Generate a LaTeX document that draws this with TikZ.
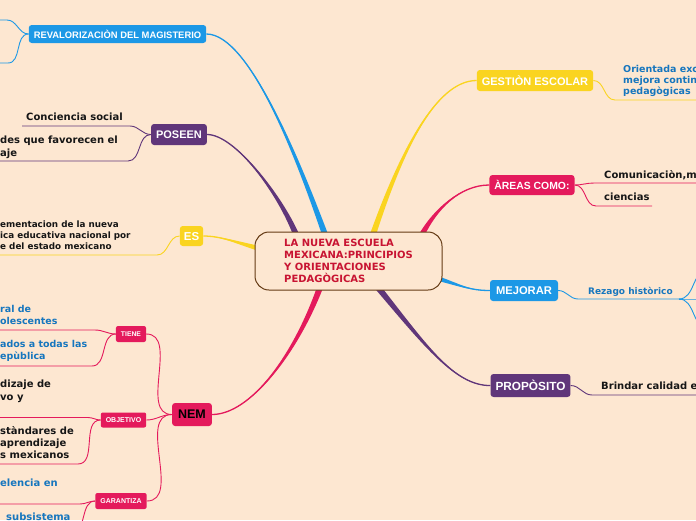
\documentclass[tikz,border=0pt]{standalone}
\usepackage{fontspec}
\setmainfont{DejaVu Sans}
\newfontfamily\boxfont{Liberation Sans}
\usetikzlibrary{calc}

\definecolor{bgpeach}{RGB}{253,231,209}
\definecolor{mmblue}{RGB}{28,152,230}
\definecolor{mmpurple}{RGB}{96,54,122}
\definecolor{mmyellow}{RGB}{250,212,32}
\definecolor{mmred}{RGB}{228,26,92}
\definecolor{rootred}{RGB}{200,20,50}
\definecolor{rootbrown}{RGB}{100,58,20}
\definecolor{leafblue}{RGB}{22,118,190}
\definecolor{leafblack}{RGB}{22,22,22}

\pgfdeclarelayer{paper}
\pgfdeclarelayer{links}
\pgfsetlayers{paper,links,main}

\newcommand{\fsz}[2]{\fontsize{#1}{#2}\selectfont}
% tapered branch: colour, start, control 1, control 2, end, half width
\newcommand{\trunk}[6]{%
  \fill[#1] ($(#2)+(#6)$) .. controls ($(#3)+0.5*(#6)$) and (#4) .. (#5)
    .. controls (#4) and ($(#3)-0.5*(#6)$) .. ($(#2)-(#6)$) -- cycle;
  \draw[#1, line width=1.3pt] (#2) .. controls (#3) and (#4) .. (#5);
}

\tikzset{
  topic/.style={rounded corners=3pt, text=white, inner xsep=5pt, inner ysep=0pt, text depth=0pt},
  leaf/.style={anchor=south west, inner sep=0pt, align=left, execute at end node=\strut},
  twig/.style={line width=0.9pt},
}

\begin{document}
\begin{tikzpicture}[x=1pt, y=-1pt]
  \begin{pgfonlayer}{paper}
    \fill[bgpeach] (0,0) rectangle (696,520);
  \end{pgfonlayer}
  \useasboundingbox (0,0) rectangle (696,520);

  % central idea
  \node[draw=rootbrown, line width=1pt, rounded corners=14pt, fill=bgpeach,
    minimum width=187pt, minimum height=58pt, align=left, text=rootred,
    font=\bfseries\fsz{10}{12}] (root) at (348.5,261)
    {LA NUEVA ESCUELA\\MEXICANA:PRINCIPIOS\\Y ORIENTACIONES\\PEDAG\`OGICAS};

  % topics on the left
  \node[topic, fill=mmblue, minimum height=18pt, font=\boxfont\bfseries\fsz{9.4}{11}] (reval) at (117.5,34) {REVALORIZACI\`ON DEL MAGISTERIO};
  \node[topic, fill=mmpurple, minimum height=21pt, font=\boxfont\bfseries\fsz{11}{13}] (poseen) at (179,134.5) {POSEEN};
  \node[topic, fill=mmyellow, minimum height=20pt, inner xsep=4pt, font=\boxfont\bfseries\fsz{11.5}{13}] (es) at (191.5,236) {ES};
  \node[topic, fill=mmred, text=black, minimum height=23pt, inner xsep=6pt, font=\boxfont\bfseries\fsz{12.5}{14}] (nem) at (192,414.5) {NEM};
  \node[topic, fill=mmred, rounded corners=2pt, minimum height=16pt, font=\boxfont\bfseries\fsz{6.8}{8}] (tiene) at (131,334) {TIENE};
  \node[topic, fill=mmred, rounded corners=2pt, minimum height=15pt, font=\boxfont\bfseries\fsz{7}{8}] (objetivo) at (123.5,420) {OBJETIVO};
  \node[topic, fill=mmred, rounded corners=2pt, minimum height=16pt, font=\boxfont\bfseries\fsz{7}{8}] (garantiza) at (121,501) {GARANTIZA};

  % topics on the right
  \node[topic, fill=mmyellow, minimum height=21pt, font=\boxfont\bfseries\fsz{11}{13}] (gestion) at (535,80.5) {GESTI\`ON ESCOLAR};
  \node[topic, fill=mmred, minimum height=20pt, font=\boxfont\bfseries\fsz{10.4}{12}] (areas) at (532,185) {\`AREAS COMO:};
  \node[topic, fill=mmblue, minimum height=21pt, inner xsep=6pt, font=\boxfont\bfseries\fsz{11.2}{13}] (mejorar) at (524,290.5) {MEJORAR};
  \node[topic, fill=mmpurple, minimum height=23pt, font=\boxfont\bfseries\fsz{11.8}{14}] (proposito) at (530.5,385.5) {PROP\`OSITO};

  % leaves on the left (cut by the page edge)
  \node[leaf, text=leafblack, font=\bfseries\fsz{10}{13}] (conciencia) at (26,125) {Conciencia social};
  \node[leaf, text=leafblack, font=\bfseries\fsz{10}{13}] (habilidades) at (0,160.4) {des que favorecen el\\aje};
  \node[leaf, text=leafblack, font=\bfseries\fsz{8.8}{11}] (implementa) at (0,253.3) {ementacion de la nueva\\ica educativa nacional por\\e del estado mexicano};
  \node[leaf, text=leafblue, font=\bfseries\fsz{9.5}{12}] (integral) at (0,328.6) {ral de\\olescentes};
  \node[leaf, text=leafblue, font=\bfseries\fsz{9.5}{12}] (regiones) at (0,363.6) {ados a todas las\\ep\`ublica};
  \node[leaf, text=leafblack, font=\bfseries\fsz{10}{13}] (aprendizaje) at (0,404.9) {dizaje de\\vo y};
  \node[leaf, text=leafblack, font=\bfseries\fsz{10}{12}] (estandares) at (0,462.6) {st\`andares de\\aprendizaje\\s mexicanos};
  \node[leaf, text=leafblue, font=\bfseries\fsz{10}{12}] (excelencia) at (0,490.6) {elencia en};
  \node[leaf, text=leafblue, font=\bfseries\fsz{10}{12}] (subsistema) at (6,524.6) {subsistema};

  % leaves on the right
  \node[leaf, text=leafblue, font=\bfseries\fsz{9.5}{11}] (orientada) at (623,97.8) {Orientada exc\\mejora contin\\pedag\`ogicas};
  \node[leaf, text=leafblack, font=\bfseries\fsz{10}{12}] (comunica) at (604,182.6) {Comunicaci\`on,m};
  \node[leaf, text=leafblack, font=\bfseries\fsz{10}{12}] (ciencias) at (604,204.6) {ciencias};
  \node[leaf, text=leafblue, font=\bfseries\fsz{9}{11}] (rezago) at (588,297.8) {Rezago hist\`orico};
  \node[leaf, text=leafblack, font=\bfseries\fsz{10}{12}] (brindar) at (601,393.3) {Brindar calidad e};

  % underline ends
  \coordinate (rv1) at (7,20);   \coordinate (rv1e) at (-5,20);
  \coordinate (rv2) at (8,63);   \coordinate (rv2e) at (-5,63);
  \coordinate (conciencia-a) at (130,126);  \coordinate (conciencia-b) at (22,126);
  \coordinate (habilidades-a) at (128,161); \coordinate (habilidades-b) at (-5,161);
  \coordinate (implementa-a) at (157,255);  \coordinate (implementa-b) at (-5,255);
  \coordinate (integral-a) at (95,330);     \coordinate (integral-b) at (-5,330);
  \coordinate (regiones-a) at (92,366);     \coordinate (regiones-b) at (-5,366);
  \coordinate (aprendizaje-a) at (88,417.5); \coordinate (aprendizaje-b) at (-5,417.5);
  \coordinate (estandares-a) at (78,464);   \coordinate (estandares-b) at (-5,464);
  \coordinate (excelencia-a) at (80,504);   \coordinate (excelencia-b) at (-5,504);
  \coordinate (subsistema-a) at (72,532);   \coordinate (subsistema-b) at (-5,532);
  \coordinate (orientada-a) at (615,100);   \coordinate (orientada-b) at (705,100);
  \coordinate (comunica-a) at (594,183);    \coordinate (comunica-b) at (705,183);
  \coordinate (ciencias-a) at (596,206);    \coordinate (ciencias-b) at (652,206);
  \coordinate (rezago-a) at (578,299);      \coordinate (rezago-b) at (679,299);
  \coordinate (rz1) at (708,270); \coordinate (rz2) at (705,299); \coordinate (rz3) at (708,328);
  \coordinate (brindar-a) at (592,395);     \coordinate (brindar-b) at (705,395);

  % roots of the thick branches
  \coordinate (t-reval) at ([xshift=-23.5pt,yshift=-3pt]root.north);
  \coordinate (t-poseen) at ([xshift=-52.5pt,yshift=-3pt]root.north);
  \coordinate (t-es) at ([xshift=3pt,yshift=13pt]root.west);
  \coordinate (t-nem) at ([xshift=-28.5pt,yshift=3pt]root.south);
  \coordinate (t-gestion) at ([xshift=24.5pt,yshift=-3pt]root.north);
  \coordinate (t-areas) at ([xshift=73.5pt,yshift=-3pt]root.north);
  \coordinate (t-mejorar) at ([xshift=-3pt,yshift=-18pt]root.east);
  \coordinate (t-proposito) at ([xshift=29.5pt,yshift=3pt]root.south);

  \begin{pgfonlayer}{links}
    % thick branches
    \trunk{mmblue}{t-reval}{300,165}{250,34}{reval.east}{2.8,-1}
    \trunk{mmpurple}{t-poseen}{280,195}{235,134.5}{poseen.east}{2.7,-1.2}
    \trunk{mmyellow}{t-es}{235,242}{220,236}{es.east}{0.6,-2.4}
    \trunk{mmred}{t-nem}{295,355}{250,414.5}{nem.east}{2.8,1.1}
    \trunk{mmyellow}{t-gestion}{400,155}{435,80.5}{gestion.west}{2.8,1}
    \trunk{mmred}{t-areas}{435,210}{460,185}{areas.west}{2.4,1.4}
    \trunk{mmblue}{t-mejorar}{462,286}{470,290.5}{mejorar.west}{-0.6,2.1}
    \trunk{mmpurple}{t-proposito}{425,345}{455,386}{proposito.west}{2.3,-2}

    % thin branches, left
    \draw[twig, mmblue] (reval.west) to[out=180,in=0] (rv1) -- (rv1e);
    \draw[twig, mmblue] (reval.west) to[out=180,in=0] (rv2) -- (rv2e);
    \foreach \lf in {conciencia,habilidades}
      \draw[twig, mmpurple] (poseen.west) to[out=180,in=0] (\lf-a) -- (\lf-b);
    \draw[twig, mmyellow] (es.west) to[out=180,in=0] (implementa-a) -- (implementa-b);
    \foreach \sub in {tiene,objetivo,garantiza}
      \draw[twig, mmred] (nem.west) to[out=180,in=0] (\sub.east);
    \foreach \lf in {integral,regiones}
      \draw[twig, mmred] (tiene.west) to[out=180,in=0] (\lf-a) -- (\lf-b);
    \foreach \lf in {aprendizaje,estandares}
      \draw[twig, mmred] (objetivo.west) to[out=180,in=0] (\lf-a) -- (\lf-b);
    \foreach \lf in {excelencia,subsistema}
      \draw[twig, mmred] (garantiza.west) to[out=180,in=0] (\lf-a) -- (\lf-b);

    % thin branches, right
    \draw[twig, mmyellow] (gestion.east) to[out=0,in=180] (orientada-a) -- (orientada-b);
    \foreach \lf in {comunica,ciencias}
      \draw[twig, mmred] (areas.east) to[out=0,in=180] (\lf-a) -- (\lf-b);
    \draw[twig, mmblue] (mejorar.east) to[out=0,in=180] (rezago-a) -- (rezago-b);
    \foreach \k in {1,2,3}
      \draw[twig, mmblue] (rezago-b) to[out=0,in=180] (rz\k);
    \draw[twig, mmpurple] (proposito.east) to[out=0,in=180] (brindar-a) -- (brindar-b);
  \end{pgfonlayer}
\end{tikzpicture}
\end{document}
